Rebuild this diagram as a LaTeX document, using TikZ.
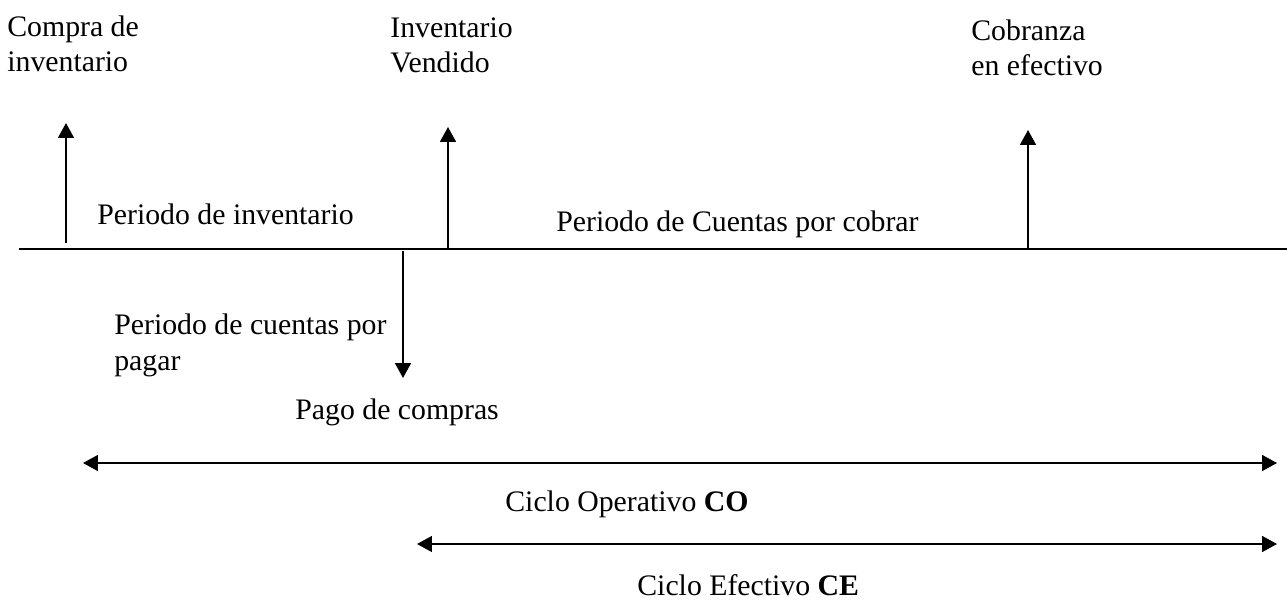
\documentclass[tikz,border=0pt]{standalone}
\usepackage{fontspec}
\setmainfont{Liberation Serif}
\usetikzlibrary{arrows.meta}
\begin{document}
\begin{tikzpicture}[x=0.02cm,y=-0.02cm,
  lbl/.style={anchor=base west,inner sep=0pt,align=left,font=\fontsize{16.95}{20.2}\selectfont},
  ln/.style={line width=1.14pt},
  arr/.style={ln,-{Triangle[length=8.5pt,width=9pt]}},
  darr/.style={ln,{Triangle[length=8.5pt,width=9pt]}-{Triangle[length=8.5pt,width=9pt]}}]
\useasboundingbox (0,0) rectangle (1287,604);
% time line
\coordinate (L0) at (19,249);
\coordinate (L1) at (1287,249);
\draw[ln] (L0) -- (L1);
% labels (multi-line nodes are anchored at the baseline of their last line)
\node[lbl] (compra) at (7,72) {Compra de\\inventario};
\node[lbl] (vend) at (390,73) {Inventario\\Vendido};
\node[lbl] (cobr) at (971,76) {Cobranza\\en efectivo};
\node[lbl] (pinv) at (97,225) {Periodo de inventario};
\node[lbl] (pcxc) at (556,232) {Periodo de Cuentas por cobrar};
\node[lbl] (pcxp) at (114,370) {Periodo de cuentas por\\pagar};
\node[lbl] (pago) at (295,419) {Pago de compras};
\node[lbl] (co) at (505,511) {Ciclo Operativo \textbf{CO}};
\node[lbl] (ce) at (637,595) {Ciclo Efectivo \textbf{CE}};
% vertical arrows
\coordinate (a1b) at (66,243); \coordinate (a1t) at (66,123);
\coordinate (a2b) at (448,249); \coordinate (a2t) at (448,127);
\coordinate (a3b) at (1028,249); \coordinate (a3t) at (1028,130);
\coordinate (d1t) at (403,251); \coordinate (d1b) at (403,378);
\draw[arr] (a1b) -- (a1t);
\draw[arr] (a2b) -- (a2t);
\draw[arr] (a3b) -- (a3t);
\draw[arr] (d1t) -- (d1b);
% cycle arrows
\coordinate (c1l) at (83,463); \coordinate (c1r) at (1277,463);
\coordinate (c2l) at (417,544); \coordinate (c2r) at (1277,544);
\draw[darr] (c1l) -- (c1r);
\draw[darr] (c2l) -- (c2r);
\end{tikzpicture}
\end{document}
